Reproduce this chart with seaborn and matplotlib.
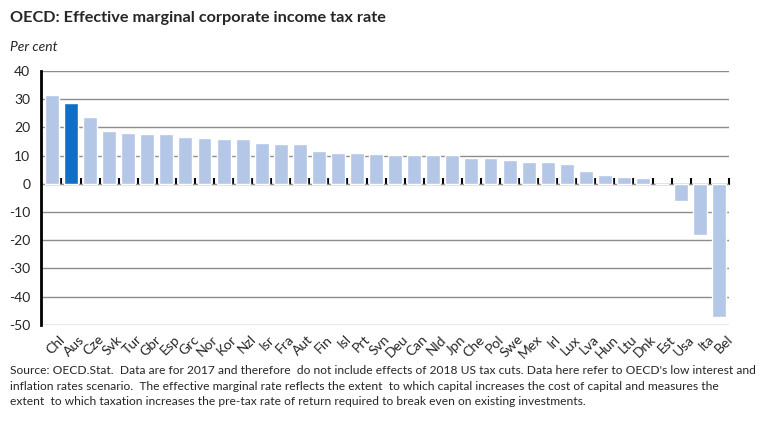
import matplotlib
matplotlib.use("Agg")
import matplotlib.pyplot as plt
import seaborn as sns
import numpy as np
import pandas as pd

# Dados (OECD, 2017)
paises = ['Chl', 'Aus', 'Cze', 'Svk', 'Tur', 'Gbr', 'Esp', 'Grc', 'Nor', 'Kor',
          'Nzl', 'Isr', 'Fra', 'Aut', 'Fin', 'Isl', 'Prt', 'Svn', 'Deu', 'Can',
          'Nld', 'Jpn', 'Che', 'Pol', 'Swe', 'Mex', 'Irl', 'Lux', 'Lva', 'Hun',
          'Ltu', 'Dnk', 'Est', 'Usa', 'Ita', 'Bel']
taxas = [31.4, 28.5, 23.6, 18.6, 18.2, 17.6, 17.6, 16.6, 16.2, 15.9,
         15.9, 14.4, 14.0, 14.0, 11.5, 11.1, 10.8, 10.5, 10.2, 10.2,
         10.2, 10.2, 9.3, 9.0, 8.6, 7.9, 7.6, 6.9, 4.4, 3.0,
         2.6, 2.2, 0.0, -5.9, -18.0, -47.3]
destaque = 'Aus'
y_ticks = [40, 30, 20, 10, 0, -10, -20, -30, -40, -50]

titulo = 'OECD: Effective marginal corporate income tax rate'
unidade = 'Per cent'
fonte = ("Source: OECD.Stat.  Data are for 2017 and therefore  do not include effects of 2018 US tax cuts. "
         "Data here refer to OECD's low interest and\n"
         "inflation rates scenario.  The effective marginal rate reflects the extent  to which capital "
         "increases the cost of capital and measures the\n"
         "extent  to which taxation increases the pre-tax rate of return required to break even on existing investments.")

df = pd.DataFrame({'pais': paises, 'taxa': taxas})
cor_clara = '#B4C7E7'
cor_escura = '#0F6FC6'
paleta = {p: (cor_escura if p == destaque else cor_clara) for p in paises}

sns.set_style('white')
plt.rcParams['font.family'] = ['Lato', 'DejaVu Sans']

fig = plt.figure(figsize=(7.68, 4.23), dpi=100)
ax = fig.add_axes([0.054, 0.232, 0.895, 0.600])

sns.barplot(data=df, x='pais', y='taxa', hue='pais', palette=paleta,
            width=0.73, legend=False, saturation=1, ax=ax, zorder=3)

ax.set_ylim(-50, 40)
ax.set_xlim(-0.55, len(paises) - 0.5)
ax.set_yticks(y_ticks)
ax.set_yticklabels([str(v) for v in y_ticks], fontsize=10)
ax.yaxis.grid(True, color='#8C8C8C', linewidth=1, zorder=0)
ax.set_xlabel('')
ax.set_ylabel('')

for s in ['top', 'right', 'bottom']:
    ax.spines[s].set_visible(False)
ax.spines['left'].set_color('black')
ax.spines['left'].set_linewidth(2)
ax.spines['left'].set_zorder(5)
ax.tick_params(axis='y', direction='out', length=4, width=1.5, color='black', pad=4)

# rótulos do eixo x na base
ax.set_xticks(range(len(paises)))
ax.set_xticklabels(paises, rotation=45, ha='right', va='top',
                   rotation_mode='anchor', fontsize=10)
ax.tick_params(axis='x', length=0, pad=6)
for lbl in ax.get_xticklabels():
    lbl.set_transform(lbl.get_transform() + matplotlib.transforms.ScaledTranslation(0.07, 0, fig.dpi_scale_trans))

# linha do zero com marcas entre as categorias
eixo_zero = ax.secondary_xaxis(50 / 90)
eixo_zero.spines['bottom'].set_color('black')
eixo_zero.spines['bottom'].set_linewidth(2)
eixo_zero.set_xticks(np.arange(len(paises)) + 0.5)
eixo_zero.set_xticklabels([])
eixo_zero.tick_params(axis='x', direction='out', length=4, width=1.5, color='black')

fig.text(0.013, 0.957, titulo, fontsize=11.7, fontweight='bold', ha='left', va='center')
fig.text(0.013, 0.888, unidade, fontsize=10, style='italic', ha='left', va='center')
fig.text(0.013, 0.137, fonte, fontsize=8.65, ha='left', va='top', linespacing=1.5)

fig.savefig('out.png', dpi=100)
